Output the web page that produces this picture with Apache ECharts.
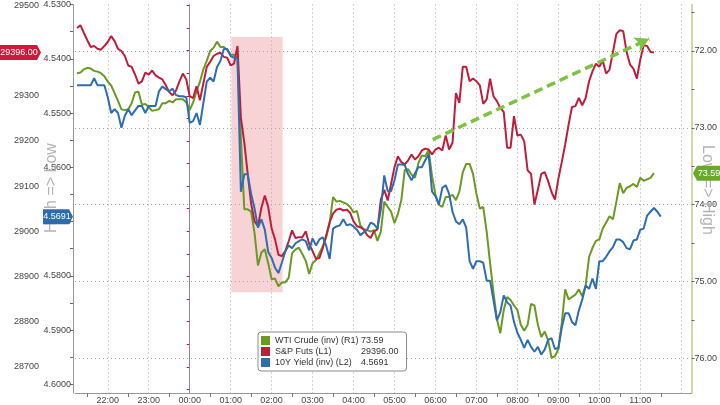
<!DOCTYPE html>
<html><head><meta charset="utf-8">
<script src="https://cdn.jsdelivr.net/npm/echarts@6/dist/echarts.min.js"></script>
<style>html,body{margin:0;padding:0;background:#fff}#c{width:720px;height:405px}</style>
</head><body><div id="c"></div>
<script>
// time grid: minutes from 00:00, first point 21:15 of previous day, every 5 minutes
const startMin = -165, stepMin = 5;

const spxValues = [
29450,29456,29439,29423,29408,29410,29404,29402,29410,29419,29432,29421,
29404,29399,29388,29367,29364,29347,29327,29332,29351,29347,29356,29345,
29340,29336,29323,29308,29301,29312,29332,29349,29336,29299,29295,29321,
29290,29327,29364,29375,29388,29393,29395,29386,29384,29367,29371,29410,
29251,29196,29127,29061,29022,29011,29052,29079,29054,29006,28982,28948,
28945,28956,28978,29002,28985,28987,28987,29000,28972,28956,28939,28941,
28963,28991,29020,29039,29048,29050,29046,29048,29041,29022,29011,29009,
29004,28991,28985,29000,29004,29070,29092,29068,29105,29142,29166,29153,
29148,29157,29170,29159,29166,29179,29183,29181,29170,29181,29185,29179,
29212,29181,29196,29306,29284,29364,29364,29332,29338,29332,29323,29282,
29292,29338,29299,29288,29273,29264,29185,29185,29255,29212,29214,29199,
29135,29127,29059,29092,29127,29131,29111,29087,29070,29116,29153,29192,
29236,29275,29277,29295,29279,29295,29332,29354,29371,29364,29378,29349,
29358,29397,29437,29445,29443,29397,29369,29360,29338,29380,29412,29410,
29397,29396,null,null];

const wtiValues = [
72.29,72.28,72.24,72.22,72.23,72.26,72.27,72.29,72.33,72.40,72.45,72.55,
72.65,72.76,72.77,72.76,72.68,72.54,72.53,72.70,72.69,72.73,72.78,72.77,
72.76,72.68,72.68,72.65,72.67,72.63,72.63,72.63,72.67,72.77,72.67,72.53,
72.40,72.24,72.13,72.00,71.96,71.88,71.95,71.95,71.99,72.05,72.05,72.10,
73.13,74.06,74.06,74.09,74.37,74.79,74.62,74.58,74.76,74.97,74.96,75.06,
75.01,75.01,74.95,74.63,74.58,74.56,74.64,74.73,74.90,74.76,74.72,74.63,
74.54,74.42,74.24,73.90,73.96,73.95,73.97,73.99,74.03,74.10,74.08,74.27,
74.32,74.33,74.35,74.33,74.47,74.35,73.96,74.03,74.09,74.24,74.12,73.94,
73.55,73.54,73.61,73.65,73.46,73.36,73.37,73.29,73.63,73.87,74.00,74.03,
73.90,73.90,73.87,73.94,73.83,73.58,73.47,73.47,73.60,73.86,74.05,74.03,
74.35,74.76,75.14,75.49,75.67,75.37,75.20,75.24,75.31,75.37,75.56,75.64,
75.56,75.29,75.31,75.56,75.72,75.65,75.76,75.99,75.97,75.88,75.54,75.10,
75.23,75.20,75.17,75.10,75.19,75.05,74.68,74.56,74.47,74.45,74.31,74.23,
74.15,74.19,73.96,73.72,73.85,73.78,73.76,73.73,73.77,73.65,73.69,73.67,
73.65,73.59,null,null];

const yieldValues = [
4.5449,4.5449,4.5449,4.5449,4.5449,4.5436,4.5449,4.5449,4.5449,4.5471,4.5500,4.5493,
4.5500,4.5527,4.5505,4.5493,4.5504,4.5495,4.5487,4.5487,4.5500,4.5487,4.5487,4.5487,
4.5460,4.5451,4.5456,4.5460,4.5455,4.5467,4.5469,4.5469,4.5471,4.5518,4.5515,4.5500,
4.5522,4.5482,4.5442,4.5435,4.5442,4.5415,4.5404,4.5382,4.5382,4.5395,4.5398,4.5400,
4.5645,4.5613,4.5613,4.5649,4.5676,4.5711,4.5696,4.5715,4.5756,4.5767,4.5785,4.5795,
4.5776,4.5755,4.5744,4.5749,4.5740,4.5736,4.5733,4.5736,4.5753,4.5731,4.5744,4.5733,
4.5729,4.5745,4.5769,4.5713,4.5709,4.5707,4.5696,4.5707,4.5705,4.5709,4.5715,4.5725,
4.5720,4.5715,4.5702,4.5705,4.5713,4.5678,4.5615,4.5644,4.5644,4.5624,4.5595,4.5595,
4.5596,4.5613,4.5624,4.5611,4.5600,4.5600,4.5587,4.5576,4.5645,4.5653,4.5669,4.5638,
4.5633,4.5649,4.5682,4.5700,4.5705,4.5696,4.5711,4.5773,4.5787,4.5773,4.5773,4.5776,
4.5809,4.5809,4.5845,4.5882,4.5867,4.5836,4.5849,4.5855,4.5885,4.5905,4.5918,4.5933,
4.5918,4.5931,4.5940,4.5931,4.5945,4.5936,4.5918,4.5915,4.5935,4.5933,4.5896,4.5869,
4.5869,4.5885,4.5891,4.5864,4.5844,4.5818,4.5824,4.5805,4.5824,4.5773,4.5773,4.5765,
4.5755,4.5747,4.5733,4.5733,4.5738,4.5749,4.5751,4.5735,4.5733,4.5715,4.5713,4.5689,
4.5682,4.5675,4.5682,4.5691];

const seriesNames = ['WTI Crude (inv) (R1)', 'S&P Futs (L1)', '10Y Yield (inv) (L2)'];
const hourLabels = [-120,-60,0,60,120,180,240,300,360,420,480,540,600,660];
const gridHours = [-120,-60,0,60,120,180,240,300,360,420,480,540,600,660,720];
const halfHourTicks = [-150,-90,-30,30,90,150,210,270,330,390,450,510,570,630,690];
const spxLabels = [28700,28800,28900,29000,29100,29200,29300,29400,29500];
const spxTicks = [28650,28700,28750,28800,28850,28900,28950,29000,29050,29100,29150,29200,29250,29300,29350,29400,29450,29500];
const yieldLabels = [4.53,4.54,4.55,4.56,4.57,4.58,4.59,4.60];
const yieldTicks = [4.53,4.535,4.54,4.545,4.55,4.555,4.56,4.565,4.57,4.575,4.58,4.585,4.59,4.595,4.60];
const wtiLabels = [72,73,74,75,76];
const wtiTicks = [71.5,72,72.5,73,73.5,74,74.5,75,75.5,76];
// shaded selloff window (minutes, S&P levels) and trend arrow (minutes, S&P levels)
const shadeWindow = [[61, 29430], [136, 28865]];
const trendArrow = [[356, 29203], [673, 29426]];

const FONT = 'Liberation Sans';
const RED = '#BE1E3C', GREEN = '#6A9A22', BLUE = '#2E6DB0';

const times = spxValues.map((_, i) => startMin + i * stepMin);
const pair = arr => times.map((t, i) => [t, i < arr.length ? arr[i] : null]);
const lastOf = arr => { for (let i = arr.length - 1; i >= 0; i--) if (arr[i] != null) return arr[i]; };
const lastVals = {};
lastVals[seriesNames[0]] = lastOf(wtiValues).toFixed(2);
lastVals[seriesNames[1]] = lastOf(spxValues).toFixed(2);
lastVals[seriesNames[2]] = lastOf(yieldValues).toFixed(4);

const fmtTime = v => { const h = ((Math.floor(v / 60) % 24) + 24) % 24; const m = ((v % 60) + 60) % 60; return String(h).padStart(2, '0') + ':' + String(m).padStart(2, '0'); };
const dotted = { type: [1, 3], color: '#aaa', width: 1 };

const chart = echarts.init(document.getElementById('c'));
chart.setOption({
  animation: false,
  backgroundColor: '#fff',
  textStyle: { fontFamily: FONT },
  grid: { left: 75, right: 28, top: 0, bottom: 11, containLabel: false },
  legend: {
    orient: 'vertical', left: 258, top: 332,
    itemWidth: 9, itemHeight: 9, itemGap: 2, icon: 'rect',
    padding: [4, 8, 4, 3],
    backgroundColor: '#fff', borderColor: '#8a8a8a', borderWidth: 1, borderRadius: 3,
    data: seriesNames,
    formatter: name => '{n|' + name + '}{v|' + lastVals[name] + '}',
    textStyle: { fontSize: 9, color: '#333', fontFamily: FONT,
      rich: { n: { width: 86, fontSize: 9, color: '#333', fontFamily: FONT }, v: { fontSize: 9, color: '#333', fontFamily: FONT } } }
  },
  xAxis: {
    type: 'value', min: -168, max: 735,
    axisLine: { show: true, lineStyle: { color: '#999' } },
    axisTick: { show: true, customValues: halfHourTicks, length: 4, lineStyle: { color: '#777' } },
    axisLabel: { customValues: hourLabels, formatter: fmtTime, fontSize: 9, color: '#444', margin: 3, fontFamily: FONT },
    splitLine: { show: false }
  },
  yAxis: [
    { type: 'value', position: 'left', offset: 33, min: 28642, max: 29502,
      axisLine: { show: true, lineStyle: { color: '#999' } },
      axisTick: { show: true, customValues: spxTicks, length: 3, lineStyle: { color: '#C8102E' } },
      axisLabel: { customValues: spxLabels, formatter: v => String(Math.round(v)), fontSize: 9, color: '#444', margin: 3, fontFamily: FONT },
      splitLine: { show: false } },
    { type: 'value', position: 'left', offset: 2, inverse: true, min: 4.53, max: 4.6016,
      axisLine: { show: true, lineStyle: { color: '#999' } },
      axisTick: { show: true, customValues: yieldTicks, length: 3, lineStyle: { color: '#666' } },
      axisLabel: { customValues: yieldLabels, formatter: v => v.toFixed(4), fontSize: 9, color: '#444', margin: 2, fontFamily: FONT },
      splitLine: { show: false } },
    { type: 'value', position: 'right', offset: 0, inverse: true, min: 71.397, max: 76.448,
      axisLine: { show: true, lineStyle: { color: '#C3CA8C', width: 1.5 } },
      axisTick: { show: true, customValues: wtiTicks, length: 3, lineStyle: { color: '#666' } },
      axisLabel: { customValues: wtiLabels, formatter: v => v.toFixed(2), fontSize: 9, color: '#444', margin: 3, fontFamily: FONT },
      splitLine: { show: false } }
  ],
  series: [
    { name: seriesNames[0], type: 'line', yAxisIndex: 2, data: pair(wtiValues), showSymbol: false,
      color: GREEN, lineStyle: { width: 2, color: GREEN },
      markLine: { silent: true, symbol: 'none', z: 1, label: { show: false }, animation: false,
        data: gridHours.map(h => ({ xAxis: h, lineStyle: h === 0 ? { type: 'solid', color: '#8c8c8c', width: 1 } : dotted }))
          .concat(wtiLabels.map(v => ({ yAxis: v, lineStyle: dotted }))) } },
    { name: seriesNames[1], type: 'line', yAxisIndex: 0, data: pair(spxValues), showSymbol: false,
      color: RED, lineStyle: { width: 2, color: RED },
      markArea: { silent: true, itemStyle: { color: 'rgba(232,110,120,0.30)' },
        data: [[{ coord: shadeWindow[0] }, { coord: shadeWindow[1] }]] },
      markLine: { silent: true, symbol: ['none', 'arrow'], symbolSize: [12, 14], label: { show: false }, animation: false,
        lineStyle: { color: '#7DC242', width: 3.5, type: [9, 5] },
        data: [[{ coord: trendArrow[0] }, { coord: trendArrow[1] }]] } },
    { name: seriesNames[2], type: 'line', yAxisIndex: 1, data: pair(yieldValues), showSymbol: false,
      color: BLUE, lineStyle: { width: 2, color: BLUE } }
  ]
});

// value flags on the axes, placed from the last values
const ySpx = chart.convertToPixel({ yAxisIndex: 0 }, lastOf(spxValues));
const yYld = chart.convertToPixel({ yAxisIndex: 1 }, lastOf(yieldValues));
const yWti = chart.convertToPixel({ yAxisIndex: 2 }, lastOf(wtiValues));
const flag = (pts, fill, tx, ty, text) => ([
  { type: 'polygon', shape: { points: pts }, style: { fill: fill }, z: 100 },
  { type: 'text', x: tx, y: ty, z: 101, style: { text: text, fill: '#fff', fontSize: 9, fontFamily: FONT, align: 'center', verticalAlign: 'middle' } }
]);
chart.setOption({
  graphic: [
    { type: 'text', x: 52, y: 188, rotation: Math.PI / 2, z: 50,
      style: { text: 'High => Low', fill: '#b4b4b4', fontSize: 16, fontFamily: FONT, align: 'center', verticalAlign: 'middle' } },
    { type: 'text', x: 707, y: 190, rotation: -Math.PI / 2, z: 50,
      style: { text: 'Low => High', fill: '#b4b4b4', fontSize: 16, fontFamily: FONT, align: 'center', verticalAlign: 'middle' } }
  ].concat(
    flag([[0, ySpx - 7.5], [37, ySpx - 7.5], [41, ySpx], [37, ySpx + 7.5], [0, ySpx + 7.5]], '#CC1A3A', 19, ySpx, lastVals[seriesNames[1]]),
    flag([[43, yYld - 7.5], [69, yYld - 7.5], [73, yYld], [69, yYld + 7.5], [43, yYld + 7.5]], '#2C6BB0', 57, yYld, lastVals[seriesNames[2]]),
    flag([[693, yWti], [697, yWti - 7.5], [720, yWti - 7.5], [720, yWti + 7.5], [697, yWti + 7.5]], '#6AA82A', 709, yWti, lastVals[seriesNames[0]])
  )
});
</script>
</body></html>
